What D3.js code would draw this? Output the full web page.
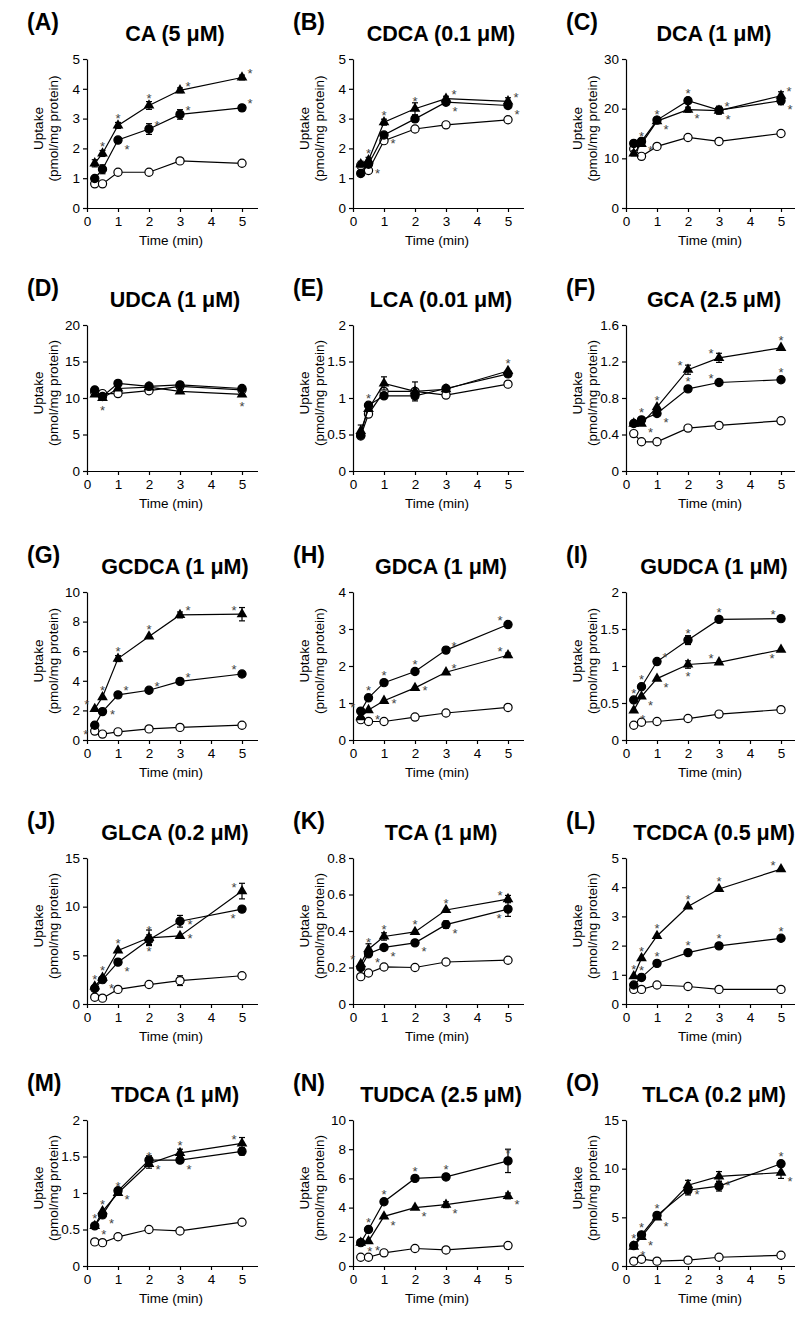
<!DOCTYPE html>
<html>
<head>
<meta charset="utf-8">
<script src="https://cdn.jsdelivr.net/npm/d3@7"></script>
<style>
  body { margin: 0; background: #fff; }
  svg text { font-family: Arial, "Liberation Sans", sans-serif; }
</style>
</head>
<body>
<div id="chart"></div>
<script>
// Chart size and grid layout
const WIDTH = 795;
const HEIGHT = 1319;
const COL_AXIS_X = [87, 353, 626];
const ROW_TOP = [59, 325, 592, 858, 1120];
const ROW_BOTTOM = [208, 471, 740, 1004, 1266];
const X_SPAN = 170.5; // pixels for 0 .. 5.5 min

// Data
const times = [0.25, 0.5, 1, 2, 3, 5];
const xTicks = [0, 1, 2, 3, 4, 5];
const letters = ["(A)", "(B)", "(C)", "(D)", "(E)", "(F)", "(G)", "(H)", "(I)", "(J)", "(K)", "(L)", "(M)", "(N)", "(O)"];
const titles = ["CA (5 μM)", "CDCA (0.1 μM)", "DCA (1 μM)", "UDCA (1 μM)", "LCA (0.01 μM)", "GCA (2.5 μM)",
  "GCDCA (1 μM)", "GDCA (1 μM)", "GUDCA (1 μM)", "GLCA (0.2 μM)", "TCA (1 μM)", "TCDCA (0.5 μM)",
  "TDCA (1 μM)", "TUDCA (2.5 μM)", "TLCA (0.2 μM)"];
const yMax = [5, 5, 30, 20, 2, 1.6, 10, 4, 2, 15, 0.8, 5, 2, 10, 15];
const yStep = [1, 1, 10, 5, 0.5, 0.4, 2, 1, 0.5, 5, 0.2, 1, 0.5, 2, 5];

// open circles
const controlVals = [
  [0.81, 0.81, 1.2, 1.2, 1.58, 1.5],
  [1.43, 1.26, 2.26, 2.65, 2.79, 2.96],
  [11.9, 10.4, 12.4, 14.2, 13.4, 15.0],
  [10.8, 10.6, 10.6, 11.0, 11.6, 11.1],
  [0.48, 0.78, 1.09, 1.09, 1.04, 1.19],
  [0.41, 0.32, 0.32, 0.47, 0.5, 0.55],
  [0.6, 0.4, 0.55, 0.75, 0.85, 1.0],
  [0.55, 0.5, 0.5, 0.62, 0.73, 0.88],
  [0.2, 0.24, 0.25, 0.29, 0.35, 0.41],
  [0.7, 0.6, 1.5, 2.0, 2.4, 2.9],
  [0.15, 0.17, 0.203, 0.2, 0.23, 0.24],
  [0.5, 0.5, 0.65, 0.6, 0.5, 0.5],
  [0.33, 0.32, 0.4, 0.5, 0.48, 0.6],
  [0.6, 0.6, 0.9, 1.2, 1.1, 1.4],
  [0.5, 0.7, 0.5, 0.6, 0.9, 1.1]
];
const controlErr = [
  [0, 0, 0.08, 0, 0.08, 0], [0, 0, 0, 0, 0.08, 0], [0, 0, 0, 0.5, 0, 0], [0, 0, 0, 0, 0, 0],
  [0, 0, 0, 0.13, 0, 0.04], [0, 0, 0, 0, 0, 0], [0, 0, 0, 0, 0, 0], [0, 0, 0, 0, 0, 0],
  [0, 0, 0, 0, 0, 0], [0, 0, 0, 0, 0.5, 0], [0, 0, 0, 0, 0, 0], [0, 0, 0, 0, 0, 0],
  [0, 0, 0, 0, 0, 0], [0, 0, 0, 0, 0, 0], [0, 0, 0, 0, 0, 0]
];

// filled circles
const circleVals = [
  [0.99, 1.3, 2.28, 2.65, 3.14, 3.36],
  [1.16, 1.47, 2.45, 2.99, 3.55, 3.44],
  [13.0, 13.4, 17.7, 21.6, 19.7, 21.6],
  [11.1, 10.2, 12.0, 11.6, 11.8, 11.3],
  [0.49, 0.9, 1.03, 1.03, 1.13, 1.33],
  [0.52, 0.56, 0.63, 0.9, 0.97, 1.0],
  [1.0, 1.92, 3.05, 3.36, 3.96, 4.46],
  [0.78, 1.14, 1.55, 1.85, 2.43, 3.12],
  [0.54, 0.72, 1.06, 1.35, 1.63, 1.64],
  [1.6, 2.5, 4.3, 6.6, 8.5, 9.75],
  [0.2, 0.275, 0.31, 0.335, 0.435, 0.52],
  [0.65, 0.91, 1.39, 1.76, 1.99, 2.25],
  [0.55, 0.7, 1.03, 1.45, 1.45, 1.57],
  [1.6, 2.5, 4.4, 6.0, 6.1, 7.2],
  [2.1, 3.2, 5.2, 7.8, 8.2, 10.5]
];
const circleErr = [
  [0.05, 0.15, 0.08, 0.18, 0.16, 0.1], [0.05, 0.08, 0.05, 0.1, 0.05, 0.1], [0.5, 0.5, 0.5, 0.5, 0.8, 0.8],
  [0, 0, 0, 0, 0, 0], [0, 0, 0, 0, 0, 0], [0, 0, 0, 0, 0, 0], [0, 0, 0, 0, 0.1, 0],
  [0, 0, 0, 0, 0.08, 0], [0, 0, 0, 0.06, 0, 0], [0, 0, 0, 0.5, 0.6, 0], [0, 0, 0, 0, 0.02, 0.04],
  [0, 0, 0, 0, 0, 0], [0, 0, 0.04, 0.06, 0, 0.05], [0, 0, 0, 0, 0, 0.8], [0, 0, 0, 0.5, 0.5, 0]
];

// filled triangles
const triangleVals = [
  [1.5, 1.83, 2.77, 3.44, 3.95, 4.38],
  [1.47, 1.6, 2.88, 3.33, 3.67, 3.58],
  [11.0, 12.9, 17.5, 19.8, 19.6, 22.6],
  [10.5, 10.0, 11.3, 11.5, 10.9, 10.5],
  [0.55, 0.85, 1.2, 1.09, 1.12, 1.37],
  [0.52, 0.52, 0.7, 1.11, 1.24, 1.35],
  [2.1, 2.9, 5.5, 7.0, 8.45, 8.5],
  [0.62, 0.81, 1.06, 1.41, 1.83, 2.29],
  [0.4, 0.59, 0.83, 1.02, 1.05, 1.22],
  [1.8, 2.7, 5.5, 6.8, 7.0, 11.6],
  [0.22, 0.3, 0.37, 0.395, 0.515, 0.575],
  [0.95, 1.57, 2.33, 3.34, 3.94, 4.62],
  [0.55, 0.75, 1.0, 1.4, 1.55, 1.68],
  [1.6, 1.7, 3.4, 4.0, 4.2, 4.8],
  [2.0, 3.0, 5.0, 8.3, 9.2, 9.6]
];
const triangleErr = [
  [0.12, 0.1, 0.1, 0.13, 0.08, 0.08], [0.1, 0.1, 0.1, 0.2, 0.08, 0.12], [0.5, 0.5, 0.5, 0.5, 0.5, 0.8],
  [0, 0, 0, 0, 0, 0], [0.08, 0, 0.09, 0, 0, 0], [0, 0, 0, 0.05, 0.05, 0], [0, 0, 0.2, 0, 0.2, 0.45],
  [0, 0, 0, 0, 0, 0.06], [0, 0, 0, 0.05, 0, 0], [0, 0, 0, 0.8, 0, 0.8], [0, 0.03, 0.02, 0, 0, 0.02],
  [0, 0, 0, 0, 0, 0], [0, 0, 0, 0.06, 0.05, 0.08], [0, 0, 0, 0, 0.2, 0.2], [0, 0, 0, 0.5, 0.5, 0.6]
];

// significance marks: - none, u above, r above-right, l above-left, d below-right, k below-left, b below, R right
const circleStars = ["--drrr", "-dd-dd", "-ddurd", "------", "-u----", "-udulu", "kRrrrl", "luuurl",
  "uuruul", "-ddbRk", "-ddddk", "-uuuuu", "ddddd-", "-uuuuu", "uuuuuu"];
const triangleStars = ["-uuurr", "-uuurr", "-uuddr", "-b---b", "-----u", "-dullu", "luuurl", "-dRRrl",
  "dddblk", "uuuuRl", "luuuul", "uuuuul", "uuuuul", "dddddd", "dddddd"];

const STAR_OFFSETS = {
  u: [0, -10], r: [8, -7], l: [-8, -7], d: [9, 6], k: [-9, 6], b: [0, 9], R: [10, 0]
};

const svg = d3.select("#chart").append("svg")
  .attr("width", WIDTH)
  .attr("height", HEIGHT)
  .style("display", "block");

titles.forEach((title, i) => {
  const row = Math.floor(i / 3);
  const col = i % 3;
  const left = COL_AXIS_X[col];
  const top = ROW_TOP[row];
  const bottom = ROW_BOTTOM[row];

  const xScale = d3.scaleLinear().domain([0, 5.5]).range([left, left + X_SPAN]);
  const yScale = d3.scaleLinear().domain([0, yMax[i]]).range([bottom, top]);

  const g = svg.append("g");

  // panel letter and title
  g.append("text")
    .attr("x", left - 60)
    .attr("y", top - 29)
    .style("font-size", "23px")
    .style("font-weight", "bold")
    .text(letters[i]);

  g.append("text")
    .attr("x", left + 88)
    .attr("y", top - 18)
    .attr("text-anchor", "middle")
    .style("font-size", "21.5px")
    .style("font-weight", "bold")
    .text(title);

  // axes
  const yTickVals = d3.range(0, yMax[i] + yStep[i] / 2, yStep[i]);
  const yAxis = g.append("g")
    .attr("transform", `translate(${left},0)`)
    .call(d3.axisLeft(yScale).tickValues(yTickVals).tickFormat(d3.format("~g")).tickSize(4).tickSizeOuter(0));

  const xAxis = g.append("g")
    .attr("transform", `translate(0,${bottom})`)
    .call(d3.axisBottom(xScale).tickValues(xTicks).tickFormat(d3.format("~g")).tickSize(4).tickSizeOuter(0));

  [yAxis, xAxis].forEach(ax => {
    ax.select(".domain").attr("stroke", "#000").attr("stroke-width", 1.2);
    ax.selectAll(".tick line").attr("stroke", "#000").attr("stroke-width", 1.2);
    ax.selectAll(".tick text").attr("fill", "#000").style("font-size", "13.5px").style("font-family", "Arial, 'Liberation Sans', sans-serif");
  });
  yAxis.selectAll(".tick text").attr("x", -7);
  xAxis.selectAll(".tick text").attr("y", 8);

  // axis labels
  const midY = (top + bottom) / 2 - 5;
  g.append("text")
    .attr("transform", `translate(${left - 44},${midY}) rotate(-90)`)
    .attr("text-anchor", "middle")
    .style("font-size", "13.5px")
    .text("Uptake");
  g.append("text")
    .attr("transform", `translate(${left - 29},${midY}) rotate(-90)`)
    .attr("text-anchor", "middle")
    .style("font-size", "13.5px")
    .text("(pmol/mg protein)");
  g.append("text")
    .attr("x", left + 84)
    .attr("y", bottom + 37)
    .attr("text-anchor", "middle")
    .style("font-size", "13.5px")
    .text("Time (min)");

  const lineGen = d3.line().x(d => xScale(d.t)).y(d => yScale(d.v));

  const series = [
    { vals: controlVals[i], err: controlErr[i], kind: "open", stars: "------" },
    { vals: circleVals[i], err: circleErr[i], kind: "circle", stars: circleStars[i] },
    { vals: triangleVals[i], err: triangleErr[i], kind: "triangle", stars: triangleStars[i] }
  ];

  series.forEach(s => {
    const pts = times.map((t, j) => ({ t, v: s.vals[j], e: s.err[j], star: s.stars[j] }));

    g.append("path")
      .datum(pts)
      .attr("fill", "none")
      .attr("stroke", "#000")
      .attr("stroke-width", 1.2)
      .attr("d", lineGen);

    // error bars
    pts.filter(p => p.e > 0).forEach(p => {
      const cx = xScale(p.t);
      const y1 = yScale(p.v + p.e);
      const y2 = yScale(Math.max(0, p.v - p.e));
      g.append("line").attr("x1", cx).attr("x2", cx).attr("y1", y1).attr("y2", y2)
        .attr("stroke", "#000").attr("stroke-width", 1.2);
      [y1, y2].forEach(yy => {
        g.append("line").attr("x1", cx - 3).attr("x2", cx + 3).attr("y1", yy).attr("y2", yy)
          .attr("stroke", "#000").attr("stroke-width", 1.2);
      });
    });

    // markers
    if (s.kind === "triangle") {
      g.selectAll(null).data(pts).enter().append("path")
        .attr("transform", d => `translate(${xScale(d.t)},${yScale(d.v)})`)
        .attr("d", d3.symbol(d3.symbolTriangle, 50))
        .attr("fill", "#000");
    } else {
      g.selectAll(null).data(pts).enter().append("circle")
        .attr("cx", d => xScale(d.t))
        .attr("cy", d => yScale(d.v))
        .attr("r", 4.1)
        .attr("fill", s.kind === "open" ? "#fff" : "#000")
        .attr("stroke", "#000")
        .attr("stroke-width", 1.2);
    }

    // significance stars
    pts.filter(p => STAR_OFFSETS[p.star]).forEach(p => {
      const off = STAR_OFFSETS[p.star];
      g.append("text")
        .attr("x", xScale(p.t) + off[0])
        .attr("y", yScale(p.v) + off[1] + 7.5)
        .attr("text-anchor", "middle")
        .attr("fill", "#444")
        .style("font-size", "13px")
        .text("*");
    });
  });
});
</script>
</body>
</html>
